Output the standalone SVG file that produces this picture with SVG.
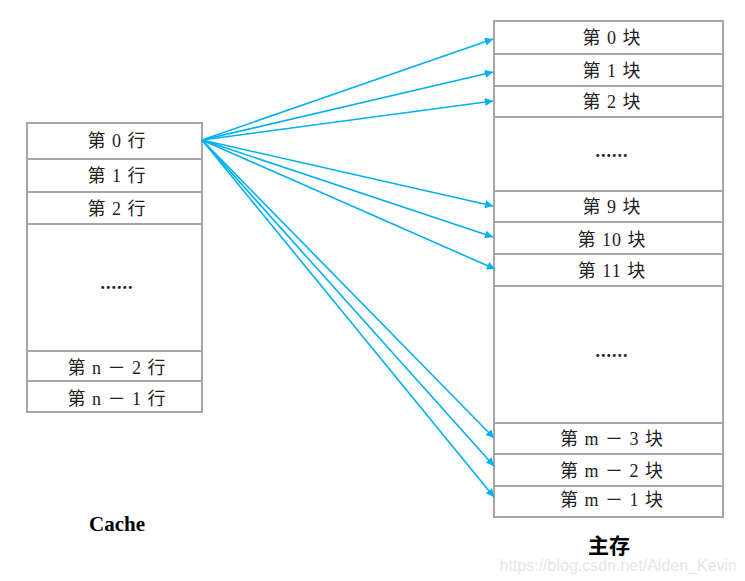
<svg xmlns="http://www.w3.org/2000/svg" width="745" height="581" viewBox="0 0 745 581">
<defs>
<marker id="ah" viewBox="0 0 10 10" refX="10" refY="5" markerWidth="10" markerHeight="8" markerUnits="userSpaceOnUse" orient="auto">
<path d="M0,0 L10,5 L0,10 z" fill="#00b0f0"/>
</marker>
<style>
.cell{fill:#fff;stroke:#a6a6a6;stroke-width:2}
.t{font-family:"Liberation Serif","Noto Sans CJK SC",serif;font-size:18px;fill:#222;text-anchor:middle;letter-spacing:1px}
.d{font-family:"Liberation Serif",serif;font-size:18px;font-weight:bold;fill:#222;text-anchor:middle;letter-spacing:1px}
.lbl{font-family:"Liberation Serif","Noto Sans CJK SC",serif;font-weight:bold;fill:#000;text-anchor:middle}
.c{stroke:#00b0f0;stroke-width:1.6;fill:none;marker-end:url(#ah)}
</style>
</defs>
<rect width="745" height="581" fill="#fff"/>
<g id="cache">
<g id="c0"><rect class="cell" x="27" y="123" width="175" height="36"/><text class="t" x="117" y="147">第 0 行</text></g>
<g id="c1"><rect class="cell" x="27" y="159" width="175" height="33"/><text class="t" x="117" y="182">第 1 行</text></g>
<g id="c2"><rect class="cell" x="27" y="192" width="175" height="32"/><text class="t" x="117" y="215">第 2 行</text></g>
<g id="cdots"><rect class="cell" x="27" y="224" width="175" height="127"/><text class="d" x="117" y="289">......</text></g>
<g id="cn2"><rect class="cell" x="27" y="351" width="175" height="30"/><text class="t" x="117" y="374">第 n － 2 行</text></g>
<g id="cn1"><rect class="cell" x="27" y="381" width="175" height="31"/><text class="t" x="117" y="405">第 n － 1 行</text></g>
</g>
<g id="mem">
<g id="m0"><rect class="cell" x="494" y="21" width="229" height="33"/><text class="t" x="612" y="44">第 0 块</text></g>
<g id="m1"><rect class="cell" x="494" y="54" width="229" height="32"/><text class="t" x="612" y="77">第 1 块</text></g>
<g id="m2"><rect class="cell" x="494" y="86" width="229" height="31"/><text class="t" x="612" y="108">第 2 块</text></g>
<g id="mdots1"><rect class="cell" x="494" y="117" width="229" height="74"/><text class="d" x="612" y="157">......</text></g>
<g id="m9"><rect class="cell" x="494" y="191" width="229" height="31"/><text class="t" x="612" y="213">第 9 块</text></g>
<g id="m10"><rect class="cell" x="494" y="222" width="229" height="32"/><text class="t" x="612" y="246">第 10 块</text></g>
<g id="m11"><rect class="cell" x="494" y="254" width="229" height="32"/><text class="t" x="612" y="277">第 11 块</text></g>
<g id="mdots2"><rect class="cell" x="494" y="286" width="229" height="137"/><text class="d" x="612" y="357">......</text></g>
<g id="mm3"><rect class="cell" x="494" y="423" width="229" height="31"/><text class="t" x="612" y="445">第 m － 3 块</text></g>
<g id="mm2"><rect class="cell" x="494" y="454" width="229" height="32"/><text class="t" x="612" y="477">第 m － 2 块</text></g>
<g id="mm1"><rect class="cell" x="494" y="486" width="229" height="31"/><text class="t" x="612" y="506">第 m － 1 块</text></g>
</g>
<g id="connectors">
<line class="c" x1="202" y1="140" x2="493" y2="39"/>
<line class="c" x1="202" y1="140" x2="493" y2="72"/>
<line class="c" x1="202" y1="140" x2="493" y2="101"/>
<line class="c" x1="202" y1="140" x2="493" y2="206"/>
<line class="c" x1="202" y1="140" x2="493" y2="237"/>
<line class="c" x1="202" y1="140" x2="495" y2="269"/>
<line class="c" x1="202" y1="140" x2="494" y2="438"/>
<line class="c" x1="202" y1="140" x2="494" y2="466"/>
<line class="c" x1="202" y1="140" x2="494" y2="497"/>
</g>
<text class="lbl" x="117" y="531" font-size="21">Cache</text>
<text class="lbl" x="609" y="553" font-size="21">主存</text>
<text x="737" y="571" font-family="'Liberation Sans',sans-serif" font-size="16" fill="#e6e6e6" text-anchor="end">https://blog.csdn.net/Aiden_Kevin</text>
</svg>
